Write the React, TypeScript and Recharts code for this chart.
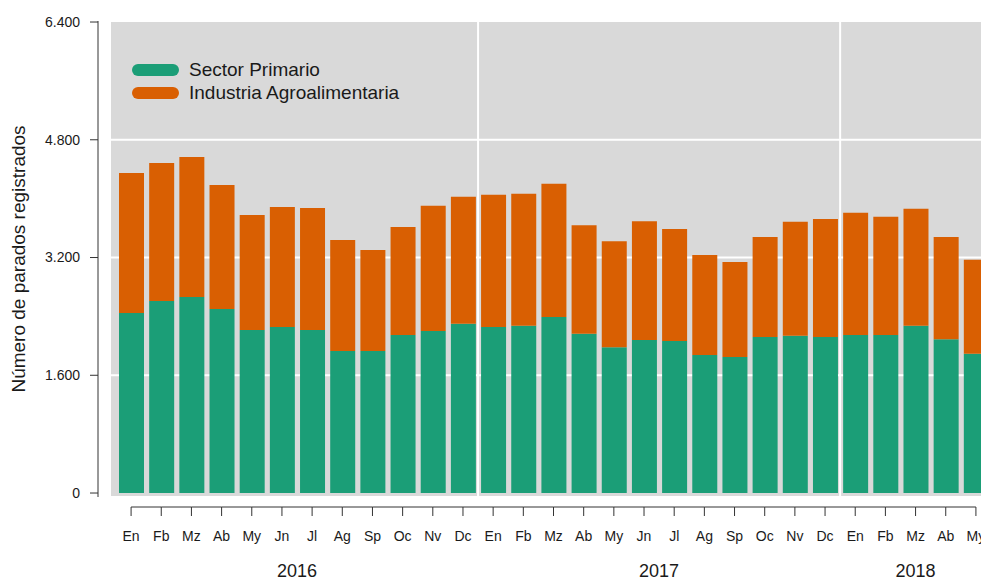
import React from "react";
import {
  ComposedChart,
  Bar,
  XAxis,
  YAxis,
  CartesianGrid,
  Legend,
} from "recharts";

// meses (En 2016 ... My 2018)
const MONTHS = [
  "En", "Fb", "Mz", "Ab", "My", "Jn", "Jl", "Ag", "Sp", "Oc", "Nv", "Dc",
  "En", "Fb", "Mz", "Ab", "My", "Jn", "Jl", "Ag", "Sp", "Oc", "Nv", "Dc",
  "En", "Fb", "Mz", "Ab", "My",
];

const SECTOR_PRIMARIO = [
  2446, 2609, 2663, 2500, 2215, 2255, 2215, 1929, 1929, 2147, 2201, 2300,
  2255, 2273, 2391, 2164, 1980, 2079, 2065, 1875, 1848, 2120, 2137, 2120,
  2147, 2147, 2273, 2088, 1893,
];

const INDUSTRIA_AGRO = [
  1902, 1875, 1902, 1685, 1562, 1631, 1657, 1508, 1373, 1467, 1702, 1726,
  1798, 1794, 1811, 1473, 1440, 1613, 1522, 1359, 1291, 1358, 1549, 1603,
  1661, 1607, 1590, 1390, 1277,
];

const SERIES_NAMES = ["Sector Primario", "Industria Agroalimentaria"];

const YEARS = ["2016", "2017", "2018"];
const YEAR_POS = [5.5, 17.5, 26];
const YEAR_BREAKS = [11.5, 23.5];

const Y_TICKS = [0, 1600, 3200, 4800, 6400];
const GRID_VALUES = [1600, 3200, 4800];

const data = MONTHS.map((m, i) => ({
  idx: i,
  month: m,
  primario: SECTOR_PRIMARIO[i],
  industria: INDUSTRIA_AGRO[i],
}));

const FONT = '"Liberation Sans", Arial, Helvetica, sans-serif';
const TEXT = "#1a1a1a";
const AXIS = "#333333";

const CHART_W = 1000;
const CHART_H = 579;
const MARGIN = { top: 21, right: 3, bottom: 0, left: 0 };
const Y_OUTER_W = 98;
const Y_INNER_W = 12;
const PAD = 6;
const PLOT_W = CHART_W - MARGIN.left - MARGIN.right - Y_OUTER_W - Y_INNER_W;
const PITCH = (PLOT_W - 2 * PAD) / MONTHS.length;
const X_DOMAIN: [number, number] = [-0.5, MONTHS.length - 0.5];
const Y_DOMAIN: [number, number] = [-54, 6414];

const fmt = (v: number) => String(v).replace(/\B(?=(\d{3})+(?!\d))/g, ".");

function EmptyTick() {
  return <g />;
}

function MonthTick(props: any) {
  const { x, y, payload, index } = props;
  const last = index >= MONTHS.length - 1;
  return (
    <g>
      {!last && (
        <line x1={x} y1={y} x2={x + PITCH} y2={y} stroke={AXIS} strokeWidth={1} />
      )}
      <line x1={x} y1={y} x2={x} y2={y + 9} stroke={AXIS} strokeWidth={1} />
      <text
        x={x}
        y={y + 34}
        textAnchor="middle"
        fontFamily={FONT}
        fontSize={14}
        fill={TEXT}
      >
        {MONTHS[payload.value]}
      </text>
    </g>
  );
}

function YearTick(props: any) {
  const { x, y, index } = props;
  return (
    <text
      x={x}
      y={y + 33}
      textAnchor="middle"
      fontFamily={FONT}
      fontSize={18}
      fill={TEXT}
    >
      {YEARS[index]}
    </text>
  );
}

function LegendBox(props: any) {
  const items = [...(props.payload || [])].sort(
    (a: any, b: any) => SERIES_NAMES.indexOf(a.value) - SERIES_NAMES.indexOf(b.value)
  );
  return (
    <div style={{ fontFamily: FONT, fontSize: 19, color: TEXT }}>
      {items.map((e: any) => (
        <div
          key={e.value}
          style={{ display: "flex", alignItems: "center", height: 23 }}
        >
          <span
            style={{
              display: "inline-block",
              width: 47,
              height: 12,
              borderRadius: 6,
              background: e.color,
              marginRight: 10,
            }}
          />
          <span>{e.value}</span>
        </div>
      ))}
    </div>
  );
}

export default function App() {
  return (
    <div
      style={{
        position: "fixed",
        left: 0,
        top: 0,
        width: 981,
        height: 579,
        overflow: "hidden",
        background: "#fff",
      }}
    >
      <ComposedChart width={CHART_W} height={CHART_H} data={data} margin={MARGIN}>
        <CartesianGrid
          xAxisId="d_bnd"
          yAxisId="a_inner"
          fill="#d9d9d9"
          stroke="#ffffff"
          strokeWidth={2}
        />
        <XAxis
          xAxisId="a_bars"
          dataKey="idx"
          type="category"
          height={10}
          padding={{ left: PAD, right: PAD }}
          tick={false}
          axisLine={false}
          tickLine={false}
        />
        <XAxis
          xAxisId="b_months"
          dataKey="idx"
          type="number"
          domain={X_DOMAIN}
          allowDataOverflow
          ticks={data.map((d) => d.idx)}
          interval={0}
          height={37}
          padding={{ left: PAD, right: PAD }}
          axisLine={false}
          tickLine={false}
          tickSize={0}
          tickMargin={0}
          tick={<MonthTick />}
        />
        <XAxis
          xAxisId="c_year"
          dataKey="idx"
          type="number"
          domain={X_DOMAIN}
          allowDataOverflow
          ticks={YEAR_POS}
          interval={0}
          height={35}
          padding={{ left: PAD, right: PAD }}
          axisLine={false}
          tickLine={false}
          tickSize={0}
          tickMargin={0}
          tick={<YearTick />}
        />
        <XAxis
          xAxisId="d_bnd"
          dataKey="idx"
          type="number"
          domain={X_DOMAIN}
          allowDataOverflow
          ticks={YEAR_BREAKS}
          height={0}
          padding={{ left: PAD, right: PAD }}
          hide
        />
        <YAxis
          yAxisId="a_inner"
          width={Y_INNER_W}
          domain={Y_DOMAIN}
          allowDataOverflow
          ticks={GRID_VALUES}
          interval={0}
          tick={<EmptyTick />}
          axisLine={false}
          tickLine={false}
        />
        <YAxis
          yAxisId="b_outer"
          width={Y_OUTER_W}
          domain={Y_DOMAIN}
          allowDataOverflow
          ticks={Y_TICKS}
          interval={0}
          tickFormatter={fmt}
          tickSize={8}
          tickMargin={10}
          axisLine={{ stroke: AXIS }}
          tickLine={{ stroke: AXIS }}
          tick={{ fontSize: 14, fill: TEXT, fontFamily: FONT }}
          label={{
            value: "Número de parados registrados",
            angle: -90,
            position: "insideLeft",
            offset: 18,
            style: {
              textAnchor: "middle",
              fontSize: 19,
              fill: TEXT,
              fontFamily: FONT,
            },
          }}
        />
        <Legend
          layout="vertical"
          align="center"
          verticalAlign="middle"
          wrapperStyle={{ left: 132, top: 58, width: "auto" }}
          content={<LegendBox />}
        />
        <Bar
          xAxisId="a_bars"
          yAxisId="a_inner"
          dataKey="primario"
          name="Sector Primario"
          stackId="a"
          fill="#1b9e77"
          barSize={25}
          isAnimationActive={false}
        />
        <Bar
          xAxisId="a_bars"
          yAxisId="a_inner"
          dataKey="industria"
          name="Industria Agroalimentaria"
          stackId="a"
          fill="#d95f02"
          barSize={25}
          isAnimationActive={false}
        />
      </ComposedChart>
    </div>
  );
}
